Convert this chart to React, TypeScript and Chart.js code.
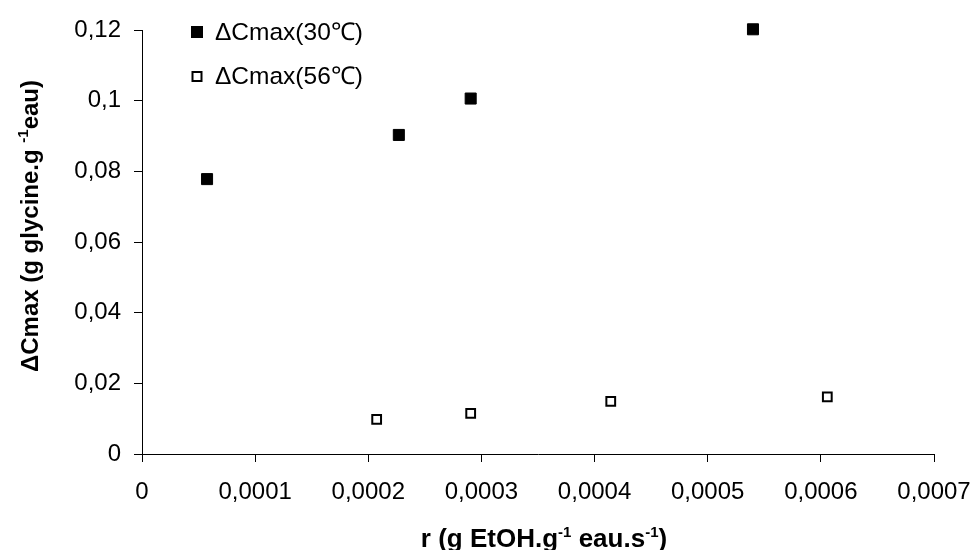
import React, { useEffect, useRef } from 'react';
import { Chart, registerables } from 'chart.js';

Chart.register(...registerables);

// ---- data ----
const label30 = 'ΔCmax(30℃)';
const label56 = 'ΔCmax(56℃)';
const r30 = [0.0000575, 0.000227, 0.0002905, 0.00054];
const c30 = [0.0778, 0.0903, 0.1006, 0.1202];
const r56 = [0.0002074, 0.0002905, 0.0004143, 0.0006057];
const c56 = [0.0098, 0.0115, 0.0149, 0.0162];
const xTickLabels = ['0', '0,0001', '0,0002', '0,0003', '0,0004', '0,0005', '0,0006', '0,0007'];
const yTickLabels = ['0', '0,02', '0,04', '0,06', '0,08', '0,1', '0,12'];
const xTitle = [
  { t: 'r (g EtOH.g', sup: false },
  { t: '-1', sup: true },
  { t: ' eau.s', sup: false },
  { t: '-1', sup: true },
  { t: ')', sup: false },
];
const yTitle = [
  { t: 'ΔCmax (g glycine.g ', sup: false },
  { t: '-1', sup: true },
  { t: 'eau)', sup: false },
];

const FONT = '"Liberation Sans", Arial, sans-serif';

type Seg = { t: string; sup: boolean };

function drawRich(ctx: CanvasRenderingContext2D, segs: Seg[], size: number, supSize: number, raise: number) {
  const main = `bold ${size}px ${FONT}`;
  const sup = `bold ${supSize}px ${FONT}`;
  let total = 0;
  const widths = segs.map((s) => {
    ctx.font = s.sup ? sup : main;
    const w = ctx.measureText(s.t).width;
    total += w;
    return w;
  });
  let x = -total / 2;
  segs.forEach((s, i) => {
    ctx.font = s.sup ? sup : main;
    ctx.fillText(s.t, x, s.sup ? -raise : 0);
    x += widths[i];
  });
}

const decorPlugin = {
  id: 'decor',
  afterDraw(chart: any) {
    const ctx: CanvasRenderingContext2D = chart.ctx;
    const ca = chart.chartArea;
    ctx.save();
    ctx.fillStyle = '#000';
    ctx.textAlign = 'left';
    ctx.textBaseline = 'alphabetic';

    // x title
    ctx.save();
    ctx.translate((ca.left + ca.right) / 2 + 6, 546.5);
    drawRich(ctx, xTitle, 26, 15, 10);
    ctx.restore();

    // y title
    ctx.save();
    ctx.translate(37.5, 226);
    ctx.rotate(-Math.PI / 2);
    drawRich(ctx, yTitle, 24, 15, 10);
    ctx.restore();

    // legend
    const ds = chart.data.datasets;
    const rows = [32, 76.5];
    ds.forEach((d: any, i: number) => {
      const cy = rows[i];
      const cx = 197;
      if (i === 0) {
        ctx.fillStyle = '#000';
        ctx.fillRect(cx - 6, cy - 6, 12, 12);
      } else {
        ctx.strokeStyle = '#000';
        ctx.lineWidth = 2;
        ctx.strokeRect(cx - 4.5, cy - 4.5, 9, 9);
      }
      ctx.fillStyle = '#000';
      ctx.font = `${24.5}px ${FONT}`;
      ctx.textBaseline = 'middle';
      ctx.fillText(d.label, 215, cy + 1);
    });
    ctx.restore();
  },
};

export default function App() {
  const ref = useRef<HTMLCanvasElement | null>(null);

  useEffect(() => {
    document.body.style.margin = '0';
    const canvas = ref.current;
    if (!canvas) return;
    const chart = new Chart(canvas, {
      type: 'scatter',
      data: {
        datasets: [
          {
            label: label30,
            data: r30.map((x, i) => ({ x, y: c30[i] })),
            pointStyle: 'rect',
            pointRadius: 7.8,
            backgroundColor: '#000',
            borderColor: '#000',
            borderWidth: 1,
            clip: false,
          },
          {
            label: label56,
            data: r56.map((x, i) => ({ x, y: c56[i] })),
            pointStyle: 'rect',
            pointRadius: 6.2,
            backgroundColor: '#fff',
            borderColor: '#000',
            borderWidth: 2,
            clip: false,
          },
        ],
      },
      options: {
        responsive: false,
        animation: false,
        devicePixelRatio: 1,
        layout: { padding: { top: 30, right: 42, left: 0, bottom: 0 } },
        plugins: {
          legend: { display: false },
          tooltip: { enabled: false },
        },
        scales: {
          x: {
            type: 'linear',
            min: 0,
            max: 0.0007,
            afterFit: (s: any) => {
              s.height = 96;
              s.paddingLeft = 0;
              s.paddingRight = 0;
            },
            afterBuildTicks: (s: any) => {
              s.ticks = xTickLabels.map((_, i) => ({ value: i * 0.0001 }));
            },
            ticks: {
              color: '#000',
              font: { family: FONT, size: 24 },
              padding: 16,
              maxRotation: 0,
              autoSkip: false,
              callback: (_v: any, i: number) => xTickLabels[i],
            },
            grid: { display: true, drawOnChartArea: false, drawTicks: true, tickLength: 8, color: '#000' },
            border: { display: true, color: '#000', width: 1 },
          },
          y: {
            type: 'linear',
            min: 0,
            max: 0.12,
            afterFit: (s: any) => {
              s.width = 142;
              s.paddingTop = 0;
              s.paddingBottom = 0;
            },
            afterBuildTicks: (s: any) => {
              s.ticks = yTickLabels.map((_, i) => ({ value: i * 0.02 }));
            },
            ticks: {
              color: '#000',
              font: { family: FONT, size: 24 },
              padding: 13,
              autoSkip: false,
              callback: (_v: any, i: number) => yTickLabels[i],
            },
            grid: { display: true, drawOnChartArea: false, drawTicks: true, tickLength: 8, color: '#000' },
            border: { display: true, color: '#000', width: 1 },
          },
        },
      },
      plugins: [decorPlugin],
    });
    return () => chart.destroy();
  }, []);

  return (
    <div style={{ width: 976, height: 550, background: '#fff' }}>
      <canvas ref={ref} width={976} height={550} style={{ display: 'block' }} />
    </div>
  );
}
